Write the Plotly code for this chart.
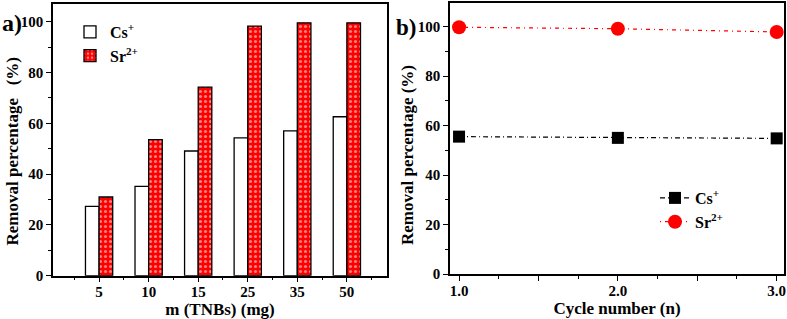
import plotly.graph_objects as go

# ---- data ----
mass_labels = ["5", "10", "15", "25", "35", "50"]
cs_removal_a = [27.3, 35.2, 49.1, 54.3, 57.0, 62.6]
sr_removal_a = [31.0, 53.6, 74.3, 98.3, 99.6, 99.6]

cycles = [1.0, 2.0, 3.0]
cs_removal_b = [55.5, 55.0, 54.8]
sr_removal_b = [99.7, 99.1, 97.8]

FONT = "Liberation Serif"
W, H = 787, 319
NB = "\u00a0"

def px_x(a, b):
    return [a / W, b / W]

def px_y(top, bottom):
    return [(H - bottom) / H, (H - top) / H]

fig = go.Figure()

idx = list(range(len(mass_labels)))
fig.add_trace(go.Bar(
    x=idx, y=cs_removal_a, name="Cs<sup>+</sup>",
    marker=dict(color="white", line=dict(color="black", width=1.3)),
    xaxis="x", yaxis="y", legend="legend",
))
fig.add_trace(go.Bar(
    x=idx, y=sr_removal_a, name="Sr<sup>2+</sup>",
    marker=dict(color="#ff0000", line=dict(color="black", width=1.3),
                pattern=dict(shape=".", fgcolor="white", bgcolor="#ff0000",
                             size=5, solidity=0.3)),
    xaxis="x", yaxis="y", legend="legend",
))

fig.add_trace(go.Scatter(
    x=cycles, y=cs_removal_b, name="Cs<sup>+</sup>", mode="lines+markers",
    line=dict(color="black", width=1.2, dash="5px,3px,1px,3px"),
    marker=dict(symbol="square", size=12, color="black"),
    xaxis="x2", yaxis="y2", legend="legend2", cliponaxis=False,
))
fig.add_trace(go.Scatter(
    x=cycles, y=sr_removal_b, name="Sr<sup>2+</sup>", mode="lines+markers",
    line=dict(color="red", width=1.2, dash="1px,4px,4px,4px"),
    marker=dict(symbol="circle", size=14, color="red"),
    xaxis="x2", yaxis="y2", legend="legend2", cliponaxis=False,
))

tickfont = dict(family=FONT, size=15, color="black", weight="bold")
titlefont = dict(family=FONT, size=17, color="black", weight="bold")

axis_common = dict(
    showline=True, linecolor="black", linewidth=1.5, mirror=True,
    ticks="outside", ticklen=5, tickwidth=1.2, tickcolor="black",
    showgrid=False, zeroline=False, tickfont=tickfont, automargin=False,
)

fig.update_layout(
    width=W, height=H,
    margin=dict(l=0, r=0, t=0, b=0, autoexpand=False),
    paper_bgcolor="white", plot_bgcolor="white",
    barmode="group", bargap=0.45, bargroupgap=0,
    font=dict(family=FONT, color="black"),
    xaxis=dict(
        domain=px_x(53, 387), anchor="y",
        range=[-0.93, 5.81], tickvals=idx, ticktext=mass_labels,
        ticklabelstandoff=-3,
        title=dict(text="m (TNBs) (mg)", font=titlefont, standoff=4),
        minor=dict(dtick=0.5, tick0=-0.5, ticks="outside", ticklen=3, tickcolor="black"),
        **axis_common,
    ),
    yaxis=dict(
        domain=px_y(4, 275.7), anchor="x",
        range=[0, 107], tickvals=[0, 20, 40, 60, 80, 100],
        minor=dict(dtick=10, ticks="outside", ticklen=3, tickcolor="black"),
        **axis_common,
    ),
    xaxis2=dict(
        domain=px_x(450, 784), anchor="y2",
        range=[0.943, 3.046], tickvals=[1, 1.5, 2, 2.5, 3],
        ticktext=["1.0", "", "2.0", "", "3.0"],
        ticklabelstandoff=-3,
        title=dict(text="Cycle number (n)", font=titlefont, standoff=4),
        minor=dict(dtick=0.25, tick0=0, ticks="outside", ticklen=3, tickcolor="black"),
        **axis_common,
    ),
    yaxis2=dict(
        domain=px_y(3, 274), anchor="x2",
        range=[0, 109.5], tickvals=[0, 20, 40, 60, 80, 100],
        minor=dict(dtick=10, ticks="outside", ticklen=3, tickcolor="black"),
        **axis_common,
    ),
    legend=dict(
        x=70 / W, y=(H - 15) / H, xanchor="left", yanchor="top",
        bgcolor="rgba(0,0,0,0)", font=dict(family=FONT, size=16, color="black", weight="bold"),
        itemwidth=30, tracegroupgap=0,
    ),
    legend2=dict(
        x=655 / W, y=(H - 181) / H, xanchor="left", yanchor="top",
        bgcolor="rgba(0,0,0,0)", font=dict(family=FONT, size=16, color="black", weight="bold"),
        itemwidth=30, tracegroupgap=0,
    ),
    annotations=[
        dict(text="a)", x=0, y=(H - 23) / H, xref="paper", yref="paper",
             xanchor="left", yanchor="middle", showarrow=False,
             font=dict(family=FONT, size=24, color="black", weight="bold")),
        dict(text="b)", x=394 / W, y=(H - 27) / H, xref="paper", yref="paper",
             xanchor="left", yanchor="middle", showarrow=False,
             font=dict(family=FONT, size=23, color="black", weight="bold")),
        dict(text="Removal percentage" + NB * 3 + "(%)", textangle=-90,
             x=12 / W, y=(H - 151.5) / H, xref="paper", yref="paper",
             xanchor="center", yanchor="middle", showarrow=False,
             font=titlefont),
        dict(text="Removal percentage (%)", textangle=-90,
             x=407 / W, y=(H - 155) / H, xref="paper", yref="paper",
             xanchor="center", yanchor="middle", showarrow=False,
             font=titlefont),
    ],
)

fig.write_html("out.html", config={"displayModeBar": False},
               post_script="document.body.style.margin='0px';")
